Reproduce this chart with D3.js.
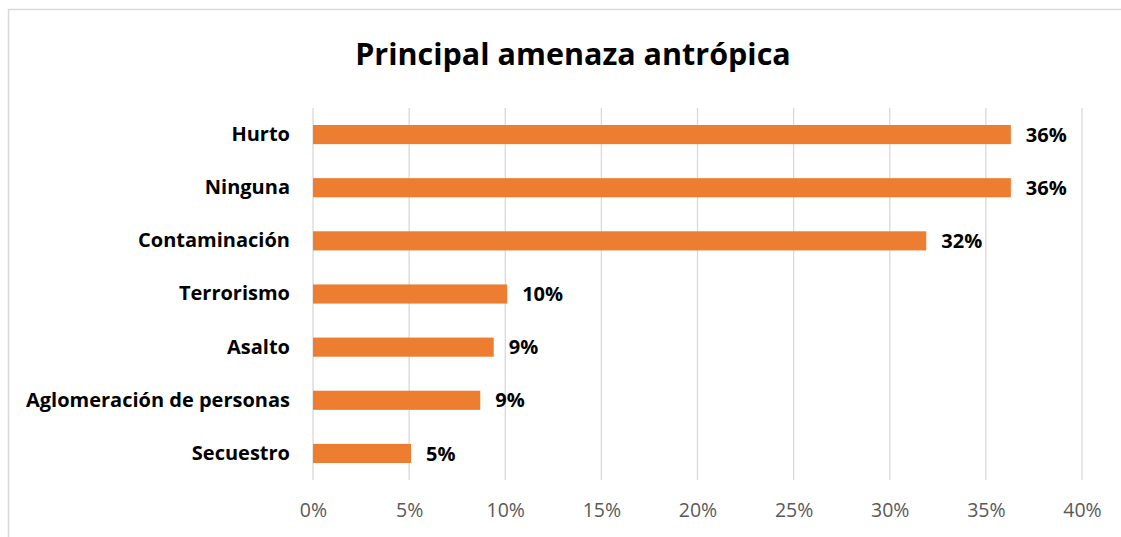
<!DOCTYPE html>
<html>
<head>
<meta charset="utf-8">
<script src="https://cdn.jsdelivr.net/npm/d3@7"></script>
<style>
  body { margin: 0; background: #fff; }
  text { font-family: "Open Sans", "Noto Sans", sans-serif; }
</style>
</head>
<body>
<div id="chart"></div>
<script>
// data
var categories = ["Hurto", "Ninguna", "Contaminación", "Terrorismo", "Asalto", "Aglomeración de personas", "Secuestro"];
var values = [36.3, 36.3, 31.9, 10.1, 9.4, 8.7, 5.1];
var valueLabels = ["36%", "36%", "32%", "10%", "9%", "9%", "5%"];
var xTicks = [0, 5, 10, 15, 20, 25, 30, 35, 40];
var title = "Principal amenaza antrópica";

var W = 1121, H = 537;
var margin = {top: 108, right: 39, bottom: 57, left: 313};
var w = W - margin.left - margin.right;
var h = H - margin.top - margin.bottom;

var svg = d3.select("#chart").append("svg")
    .attr("width", W)
    .attr("height", H);

// chart frame (cut off at right and bottom like the original)
svg.append("rect")
    .attr("x", 8.5).attr("y", 9.5)
    .attr("width", W + 10).attr("height", H + 10)
    .attr("fill", "none")
    .attr("stroke", "#d9d9d9")
    .attr("stroke-width", 1.5);

svg.append("text")
    .attr("x", 573).attr("y", 65)
    .attr("text-anchor", "middle")
    .attr("font-size", "30.5px")
    .attr("font-weight", "bold")
    .attr("fill", "#000")
    .text(title);

var g = svg.append("g").attr("transform", "translate(" + margin.left + "," + margin.top + ")");

var x = d3.scaleLinear().domain([0, 40]).range([0, w]);
var y = d3.scaleBand().domain(categories).range([0, h]).paddingInner(0.64).paddingOuter(0.32);

// gridlines
g.selectAll("line.grid")
    .data(xTicks)
    .enter().append("line")
    .attr("class", "grid")
    .attr("x1", function(d) { return x(d); })
    .attr("x2", function(d) { return x(d); })
    .attr("y1", 0).attr("y2", h)
    .attr("stroke", "#d9d9d9")
    .attr("stroke-width", 1.3);

// x axis labels
var xAxis = d3.axisBottom(x).tickValues(xTicks).tickFormat(function(d) { return d + "%"; }).tickSize(0).tickPadding(23);
var xg = g.append("g").attr("transform", "translate(0," + h + ")").call(xAxis);
xg.select(".domain").remove();
xg.selectAll("text")
    .attr("font-size", "19.5px")
    .attr("fill", "#595959")
    .style("font-family", "'Open Sans', sans-serif");

// y axis labels
var yAxis = d3.axisLeft(y).tickSize(0).tickPadding(23);
var yg = g.append("g").call(yAxis);
yg.select(".domain").remove();
yg.selectAll("text")
    .attr("font-size", "20px")
    .attr("font-weight", "bold")
    .attr("fill", "#000")
    .style("font-family", "'Open Sans', sans-serif");

// bars
g.selectAll("rect.bar")
    .data(values)
    .enter().append("rect")
    .attr("class", "bar")
    .attr("x", x(0))
    .attr("y", function(d, i) { return y(categories[i]); })
    .attr("width", function(d) { return x(d) - x(0); })
    .attr("height", y.bandwidth())
    .attr("fill", "#ed7d31");

// value labels
g.selectAll("text.val")
    .data(values)
    .enter().append("text")
    .attr("class", "val")
    .attr("x", function(d) { return x(d) + 15; })
    .attr("y", function(d, i) { return y(categories[i]) + y.bandwidth() / 2; })
    .attr("dy", "0.36em")
    .attr("font-size", "20px")
    .attr("font-weight", "bold")
    .attr("fill", "#000")
    .text(function(d, i) { return valueLabels[i]; });
</script>
</body>
</html>
